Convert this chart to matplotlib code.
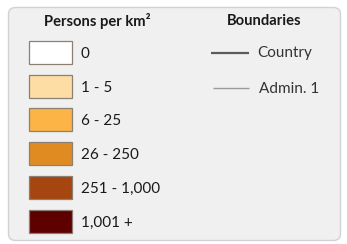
import matplotlib
matplotlib.use("Agg")
import matplotlib.pyplot as plt
from matplotlib.patches import FancyBboxPatch, Rectangle

# legend content
density_labels = ["0", "1 - 5", "6 - 25", "26 - 250", "251 - 1,000", "1,001 +"]
density_colors = ["#ffffff", "#fedda4", "#fdb447", "#e08a22", "#a5450f", "#5e0000"]
boundary_labels = ["Country", "Admin. 1"]
boundary_colors = ["#5a5a5a", "#9a9a9a"]
boundary_widths = [1.6, 1.0]

W, H = 347, 244
fig = plt.figure(figsize=(W / 100, H / 100), dpi=100)
fig.patch.set_facecolor("white")
ax = fig.add_axes([0, 0, 1, 1])
ax.set_xlim(0, W)
ax.set_ylim(H, 0)
ax.axis("off")

plt.rcParams["font.family"] = ["Lato", "DejaVu Sans"]
txt = "#1a1a1a"

# panel background
ax.add_patch(FancyBboxPatch((8.5, 7.5), 332, 233, boxstyle="round,pad=0,rounding_size=7",
                            facecolor="#f0f0f0", edgecolor="#d2d2d2", lw=1.0))

# population density swatches
ax.text(97, 21, "Persons per km²", ha="center", va="center", fontsize=10.6,
        fontweight="bold", color=txt)
y0, dy = 52.5, 33.7
for i, (lab, col) in enumerate(zip(density_labels, density_colors)):
    yc = y0 + i * dy
    ax.add_patch(Rectangle((29, yc - 11.5), 43, 23, facecolor=col,
                           edgecolor="#8c7f74", lw=0.9))
    ax.text(81, yc + 1.5, lab, ha="left", va="center", fontsize=11, color=txt)

# boundary lines
ax.text(264, 21, "Boundaries", ha="center", va="center", fontsize=10.6,
        fontweight="bold", color=txt)
for i, (lab, col, lw) in enumerate(zip(boundary_labels, boundary_colors, boundary_widths)):
    yc = 52.5 + i * 35.5
    ax.plot([211 + 2 * i, 249], [yc, yc], color=col, lw=lw, solid_capstyle="butt")
    ax.text(257 + 2 * i, yc + 1, lab, ha="left", va="center", fontsize=11, color="#333333")

fig.savefig("out.png", dpi=100)
